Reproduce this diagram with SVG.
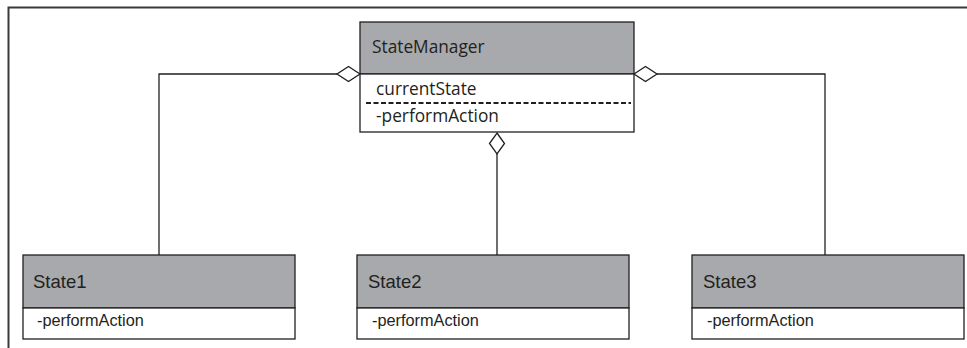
<svg xmlns="http://www.w3.org/2000/svg" width="967" height="348" viewBox="0 0 967 348">
<style>
.hdr{fill:#a7a9ac;stroke:#231f20;stroke-width:1.3}
.body{fill:#ffffff;stroke:#231f20;stroke-width:1.3}
.conn{fill:none;stroke:#231f20;stroke-width:1.3}
.dia{fill:#ffffff;stroke:#231f20;stroke-width:1.3}
.t1{font-family:"Open Sans","Liberation Sans",sans-serif;font-size:17.3px;fill:#231f20}
.t2{font-family:"Liberation Sans","Open Sans",sans-serif;font-size:18.5px;fill:#231f20}
.t3{font-family:"Liberation Sans","Open Sans",sans-serif;font-size:16.3px;fill:#231f20}
</style>
<rect width="967" height="348" fill="#ffffff"/>
<path d="M8.5,360 V7.5 H980" fill="none" stroke="#3a3a3a" stroke-width="2"/>
<g id="connectors">
<path class="conn" d="M337,74 H159 V255"/>
<path class="conn" d="M657,74 H825 V255"/>
<path class="conn" d="M497,154 V255"/>
<polygon class="dia" points="360,74 348.5,66.5 337,74 348.5,81.5"/>
<polygon class="dia" points="634,74 645.5,66.5 657,74 645.5,81.5"/>
<polygon class="dia" points="497,133 504.5,143.5 497,154 489.5,143.5"/>
</g>
<g id="StateManager">
<rect class="hdr" x="360" y="22" width="274" height="52"/>
<rect class="body" x="360" y="74" width="274" height="58"/>
<line x1="366" y1="103" x2="631" y2="103" stroke="#231f20" stroke-width="2.2" stroke-dasharray="5,2.5"/>
<text class="t1" x="372" y="53">StateManager</text>
<text class="t1" x="376" y="95">currentState</text>
<text class="t1" x="376" y="122">-performAction</text>
</g>
<g id="State1">
<rect class="hdr" x="23" y="255" width="272" height="53"/>
<rect class="body" x="23" y="308" width="272" height="31"/>
<text class="t2" x="33" y="288">State1</text>
<text class="t3" x="37" y="326">-performAction</text>
</g>
<g id="State2">
<rect class="hdr" x="357" y="255" width="272" height="53"/>
<rect class="body" x="357" y="308" width="272" height="31"/>
<text class="t2" x="368" y="288">State2</text>
<text class="t3" x="372" y="326">-performAction</text>
</g>
<g id="State3">
<rect class="hdr" x="692" y="255" width="272" height="53"/>
<rect class="body" x="692" y="308" width="272" height="31"/>
<text class="t2" x="703" y="288">State3</text>
<text class="t3" x="707" y="326">-performAction</text>
</g>
</svg>
